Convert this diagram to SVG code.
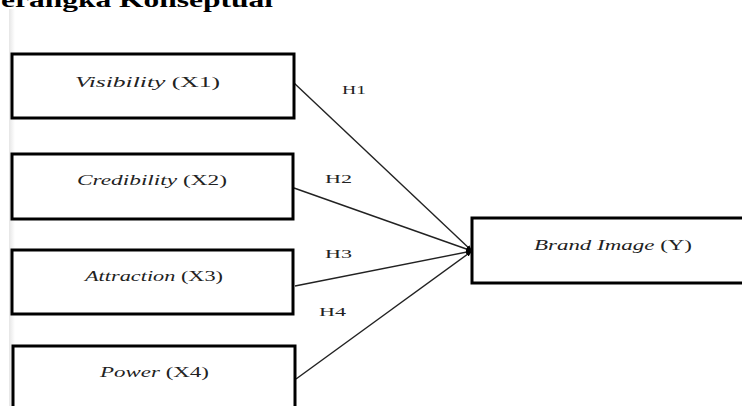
<svg xmlns="http://www.w3.org/2000/svg" width="742" height="406" viewBox="0 0 742 406">
  <defs>
    <linearGradient id="edge" x1="0" y1="0" x2="1" y2="0">
      <stop offset="0" stop-color="#e6e6e6"/>
      <stop offset="1" stop-color="#ffffff"/>
    </linearGradient>
    <marker id="arr" viewBox="0 0 10 10" refX="10" refY="5" markerWidth="6" markerHeight="6" markerUnits="userSpaceOnUse" orient="auto">
      <path d="M0,1 L10,5 L0,9 z" fill="#000"/>
    </marker>
  </defs>
  <style>
    .box { fill: #fff; stroke: #000; stroke-width: 3; }
    .lbl { font-family: "Liberation Serif", "Times New Roman", serif; font-size: 15px; fill: #222; }
    .it { font-style: italic; }
    .h { font-family: "Liberation Serif", "Times New Roman", serif; font-size: 12px; fill: #222; }
    .conn { stroke: #222; stroke-width: 1.4; fill: none; marker-end: url(#arr); }
    .title { font-family: "Liberation Serif", "Times New Roman", serif; font-size: 22px; font-weight: bold; fill: #000; }
  </style>
  <rect width="742" height="406" fill="#fff"/>
  <rect x="9" y="9" width="6" height="397" fill="url(#edge)"/>
  <text class="title" x="1" y="7" textLength="272" lengthAdjust="spacingAndGlyphs">erangka Konseptual</text>

  <g id="connectors">
    <line class="conn" x1="294" y1="83" x2="472" y2="251"/>
    <line class="conn" x1="294" y1="188" x2="472" y2="251"/>
    <line class="conn" x1="295" y1="286" x2="472" y2="251"/>
    <line class="conn" x1="296" y1="379" x2="472" y2="251"/>
  </g>

  <g id="labels">
    <text class="h" x="342" y="94" textLength="24" lengthAdjust="spacingAndGlyphs">H1</text>
    <text class="h" x="325" y="183" textLength="27" lengthAdjust="spacingAndGlyphs">H2</text>
    <text class="h" x="325" y="258" textLength="27" lengthAdjust="spacingAndGlyphs">H3</text>
    <text class="h" x="319" y="316" textLength="27" lengthAdjust="spacingAndGlyphs">H4</text>
  </g>

  <g id="x1">
    <rect class="box" x="12" y="54" width="282" height="64"/>
    <text class="lbl" x="75" y="87" textLength="145" lengthAdjust="spacingAndGlyphs"><tspan class="it">Visibility</tspan> (X1)</text>
  </g>
  <g id="x2">
    <rect class="box" x="12" y="154" width="281" height="65"/>
    <text class="lbl" x="77" y="185" textLength="150" lengthAdjust="spacingAndGlyphs"><tspan class="it">Credibility</tspan> (X2)</text>
  </g>
  <g id="x3">
    <rect class="box" x="12" y="250" width="281" height="64"/>
    <text class="lbl" x="85" y="281" textLength="138" lengthAdjust="spacingAndGlyphs"><tspan class="it">Attraction</tspan> (X3)</text>
  </g>
  <g id="x4">
    <rect class="box" x="13" y="346" width="282" height="80"/>
    <text class="lbl" x="100" y="377" textLength="109" lengthAdjust="spacingAndGlyphs"><tspan class="it">Power</tspan> (X4)</text>
  </g>
  <g id="y">
    <rect class="box" x="472" y="218" width="290" height="65"/>
    <text class="lbl" x="534" y="250" textLength="158" lengthAdjust="spacingAndGlyphs"><tspan class="it">Brand Image</tspan> (Y)</text>
  </g>
</svg>
